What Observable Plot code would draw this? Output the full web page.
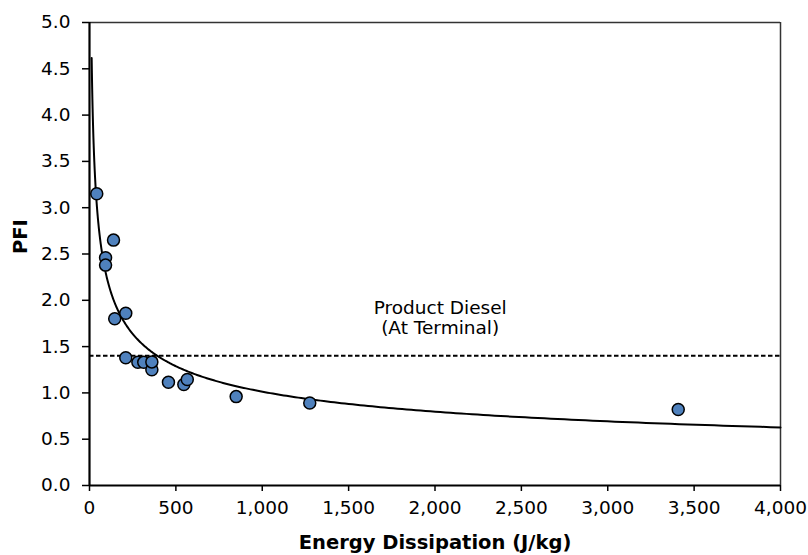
<!DOCTYPE html>
<html>
<head>
<meta charset="utf-8">
<script src="https://cdn.jsdelivr.net/npm/d3@7"></script>
<script src="https://cdn.jsdelivr.net/npm/@observablehq/plot@0.6"></script>
<style>
  html, body { margin: 0; padding: 0; background: #fff; }
  #chart svg { display: block; }
</style>
</head>
<body>
<div id="chart"></div>
<script>
// Measured samples: energy dissipation (J/kg) and particulate fouling index
const energy = [42, 139, 93, 93, 146, 210, 210, 280, 314, 361, 361, 457, 546, 566, 849, 1275, 3408];
const pfi = [3.15, 2.65, 2.46, 2.38, 1.80, 1.86, 1.38, 1.33, 1.33, 1.25, 1.335, 1.115, 1.09, 1.145, 0.96, 0.89, 0.82];

// Axis ticks
const xTicks = [0, 500, 1000, 1500, 2000, 2500, 3000, 3500, 4000];
const yTicks = [0, 0.5, 1.0, 1.5, 2.0, 2.5, 3.0, 3.5, 4.0, 4.5, 5.0];

// Product diesel reference level and its label
const dieselLimit = 1.4;
const dieselLabel = ["Product Diesel", "(At Terminal)"];
const dieselLabelEnergy = 2030;

// Power trendline PFI = a * E^b and the energy span it is drawn over
const powerFit = { a: 11.06, b: -0.346 };
const fitSpan = [12.5, 4000];

const samples = energy.map((e, i) => ({ energy: e, pfi: pfi[i] }));

const fitLine = d3.range(0, 1.0001, 0.0025).map(t => {
  const e = fitSpan[0] * Math.pow(fitSpan[1] / fitSpan[0], t);
  return { energy: e, pfi: powerFit.a * Math.pow(e, powerFit.b) };
});

const font = "DejaVu Sans, Verdana, sans-serif";

const chart = Plot.plot({
  width: 808,
  height: 555,
  marginLeft: 89,
  marginRight: 28,
  marginTop: 22,
  marginBottom: 70,
  style: { fontFamily: font, fontSize: "18.5px", color: "#000", background: "#fff" },
  x: { domain: [0, 4000] },
  y: { domain: [0, 5] },
  marks: [
    // frame: light top/right, heavy axes on left/bottom
    Plot.ruleY([yTicks[yTicks.length - 1]], { stroke: "#333", strokeWidth: 1.5 }),
    Plot.ruleX([xTicks[xTicks.length - 1]], { stroke: "#333", strokeWidth: 1.5 }),
    Plot.axisX({
      ticks: xTicks, tickFormat: d3.format(","), tickSize: 6, tickPadding: 9,
      strokeWidth: 1.5, label: null, fontSize: 18.5
    }),
    Plot.axisY({
      ticks: yTicks, tickFormat: d3.format(".1f"), tickSize: 7, tickPadding: 12,
      strokeWidth: 1.5, label: null, fontSize: 18.5
    }),
    Plot.ruleY([dieselLimit], { stroke: "#000", strokeWidth: 2, strokeDasharray: "4.5,2.5" }),
    Plot.text([dieselLabel.join("\n")], {
      x: () => dieselLabelEnergy, y: () => dieselLimit,
      lineAnchor: "bottom", dy: -22, lineHeight: 1.1, fontSize: 18.5, fill: "#000"
    }),
    Plot.line(fitLine, { x: "energy", y: "pfi", stroke: "#000", strokeWidth: 2 }),
    Plot.dot(samples, { x: "energy", y: "pfi", r: 6, fill: "#4F81BD", stroke: "#000", strokeWidth: 1.5 }),
    Plot.ruleX([0], { stroke: "#000", strokeWidth: 2.2 }),
    Plot.ruleY([0], { stroke: "#000", strokeWidth: 2.2 }),
    // axis titles
    Plot.text(["Energy Dissipation (J/kg)"], {
      frameAnchor: "bottom", dy: 63, lineAnchor: "bottom",
      fontWeight: "bold", fontSize: 19.5, fill: "#000"
    }),
    Plot.text(["PFI"], {
      frameAnchor: "left", dx: -68.5, rotate: -90,
      fontWeight: "bold", fontSize: 19.5, fill: "#000"
    })
  ]
});

document.getElementById("chart").appendChild(chart);
</script>
</body>
</html>
